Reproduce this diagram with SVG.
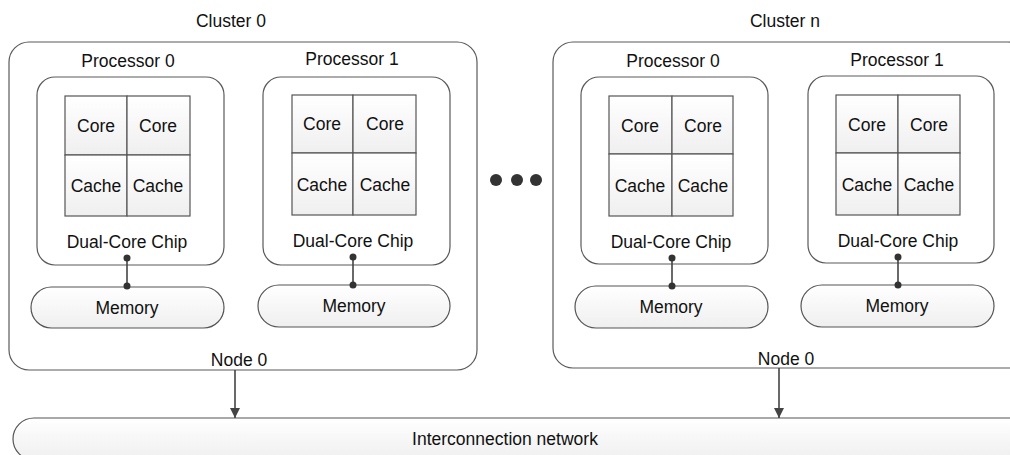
<svg xmlns="http://www.w3.org/2000/svg" width="1010" height="455" viewBox="0 0 1010 455">
<style>
text{font-family:"Liberation Sans",Arial,sans-serif;font-size:17.5px;fill:#111;text-anchor:middle}
.box{fill:#fff;stroke:#5a5a5a;stroke-width:1.2}
.cell{fill:url(#g);stroke:#555;stroke-width:1.2}
.pill{fill:url(#g);stroke:#555;stroke-width:1.2}
.ln{stroke:#444;stroke-width:1.6;fill:none}
.dot{fill:#333}
</style>
<defs>
<linearGradient id="g" x1="0" y1="0" x2="0" y2="1"><stop offset="0" stop-color="#ffffff"/><stop offset="1" stop-color="#efefef"/></linearGradient>
<marker id="arr" viewBox="0 0 10 10" refX="10" refY="5" markerWidth="10" markerHeight="10" markerUnits="userSpaceOnUse" orient="auto"><path d="M0,0 L10,5 L0,10 z" fill="#444"/></marker>
</defs>
<g id="cluster0">
<rect class="box" x="9" y="42" width="468" height="328" rx="20"/>
<text x="231" y="27">Cluster 0</text>
<text x="239" y="366">Node 0</text>
</g>
<g id="c0p0">
<rect class="box" x="37" y="77" width="187" height="188" rx="18"/>
<text x="128" y="67">Processor 0</text>
<rect class="cell" x="65" y="96" width="62" height="59"/><rect class="cell" x="127" y="96" width="63" height="59"/>
<rect class="cell" x="65" y="155" width="62" height="61"/><rect class="cell" x="127" y="155" width="63" height="61"/>
<text x="96" y="132">Core</text><text x="158" y="132">Core</text>
<text x="96" y="192">Cache</text><text x="158" y="192">Cache</text>
<text x="127" y="248">Dual-Core Chip</text>
</g>
<g id="c0m0"><rect class="pill" x="31" y="287" width="193" height="41" rx="20.5"/><text x="127" y="314">Memory</text></g>
<g id="c0p1">
<rect class="box" x="263" y="77" width="187" height="188" rx="18"/>
<text x="352" y="65">Processor 1</text>
<rect class="cell" x="292" y="95" width="61" height="58"/><rect class="cell" x="353" y="95" width="63" height="58"/>
<rect class="cell" x="292" y="153" width="61" height="62"/><rect class="cell" x="353" y="153" width="63" height="62"/>
<text x="322" y="130">Core</text><text x="385" y="130">Core</text>
<text x="322" y="191">Cache</text><text x="385" y="191">Cache</text>
<text x="353" y="247">Dual-Core Chip</text>
</g>
<g id="c0m1"><rect class="pill" x="258" y="285" width="192" height="42" rx="21"/><text x="354" y="312">Memory</text></g>
<g id="ellipsis"><circle class="dot" cx="496" cy="180" r="6"/><circle class="dot" cx="517" cy="180" r="6"/><circle class="dot" cx="536" cy="180" r="6"/></g>
<g id="clustern">
<rect class="box" x="553" y="42" width="475" height="326" rx="20"/>
<text x="785" y="27">Cluster n</text>
<text x="786" y="365">Node 0</text>
</g>
<g id="cnp0">
<rect class="box" x="581" y="77" width="187" height="187" rx="18"/>
<text x="673" y="67">Processor 0</text>
<rect class="cell" x="609" y="96" width="63" height="58"/><rect class="cell" x="672" y="96" width="61" height="58"/>
<rect class="cell" x="609" y="154" width="63" height="62"/><rect class="cell" x="672" y="154" width="61" height="62"/>
<text x="640" y="132">Core</text><text x="703" y="132">Core</text>
<text x="640" y="192">Cache</text><text x="703" y="192">Cache</text>
<text x="671" y="248">Dual-Core Chip</text>
</g>
<g id="cnm0"><rect class="pill" x="575" y="286" width="193" height="42" rx="21"/><text x="671" y="313">Memory</text></g>
<g id="cnp1">
<rect class="box" x="808" y="76" width="186" height="187" rx="18"/>
<text x="897" y="66">Processor 1</text>
<rect class="cell" x="836" y="95" width="62" height="58"/><rect class="cell" x="898" y="95" width="62" height="58"/>
<rect class="cell" x="836" y="153" width="62" height="62"/><rect class="cell" x="898" y="153" width="62" height="62"/>
<text x="867" y="131">Core</text><text x="929" y="131">Core</text>
<text x="867" y="191">Cache</text><text x="929" y="191">Cache</text>
<text x="898" y="247">Dual-Core Chip</text>
</g>
<g id="cnm1"><rect class="pill" x="801" y="285" width="193" height="42" rx="21"/><text x="897" y="312">Memory</text></g>
<g id="network"><rect class="pill" x="13" y="418" width="1020" height="42" rx="21"/><text x="505" y="445">Interconnection network</text></g>
<g id="connectors">
<line class="ln" x1="127" y1="258" x2="127" y2="286"/><circle class="dot" cx="127" cy="258" r="3.5"/><circle class="dot" cx="127" cy="286" r="3.5"/>
<line class="ln" x1="353" y1="257" x2="353" y2="285"/><circle class="dot" cx="353" cy="257" r="3.5"/><circle class="dot" cx="353" cy="285" r="3.5"/>
<line class="ln" x1="672" y1="258" x2="672" y2="286"/><circle class="dot" cx="672" cy="258" r="3.5"/><circle class="dot" cx="672" cy="286" r="3.5"/>
<line class="ln" x1="898" y1="257" x2="898" y2="285"/><circle class="dot" cx="898" cy="257" r="3.5"/><circle class="dot" cx="898" cy="285" r="3.5"/>
<line class="ln" x1="235" y1="370" x2="235" y2="418" marker-end="url(#arr)"/>
<line class="ln" x1="779" y1="368" x2="779" y2="418" marker-end="url(#arr)"/>
</g>
</svg>
